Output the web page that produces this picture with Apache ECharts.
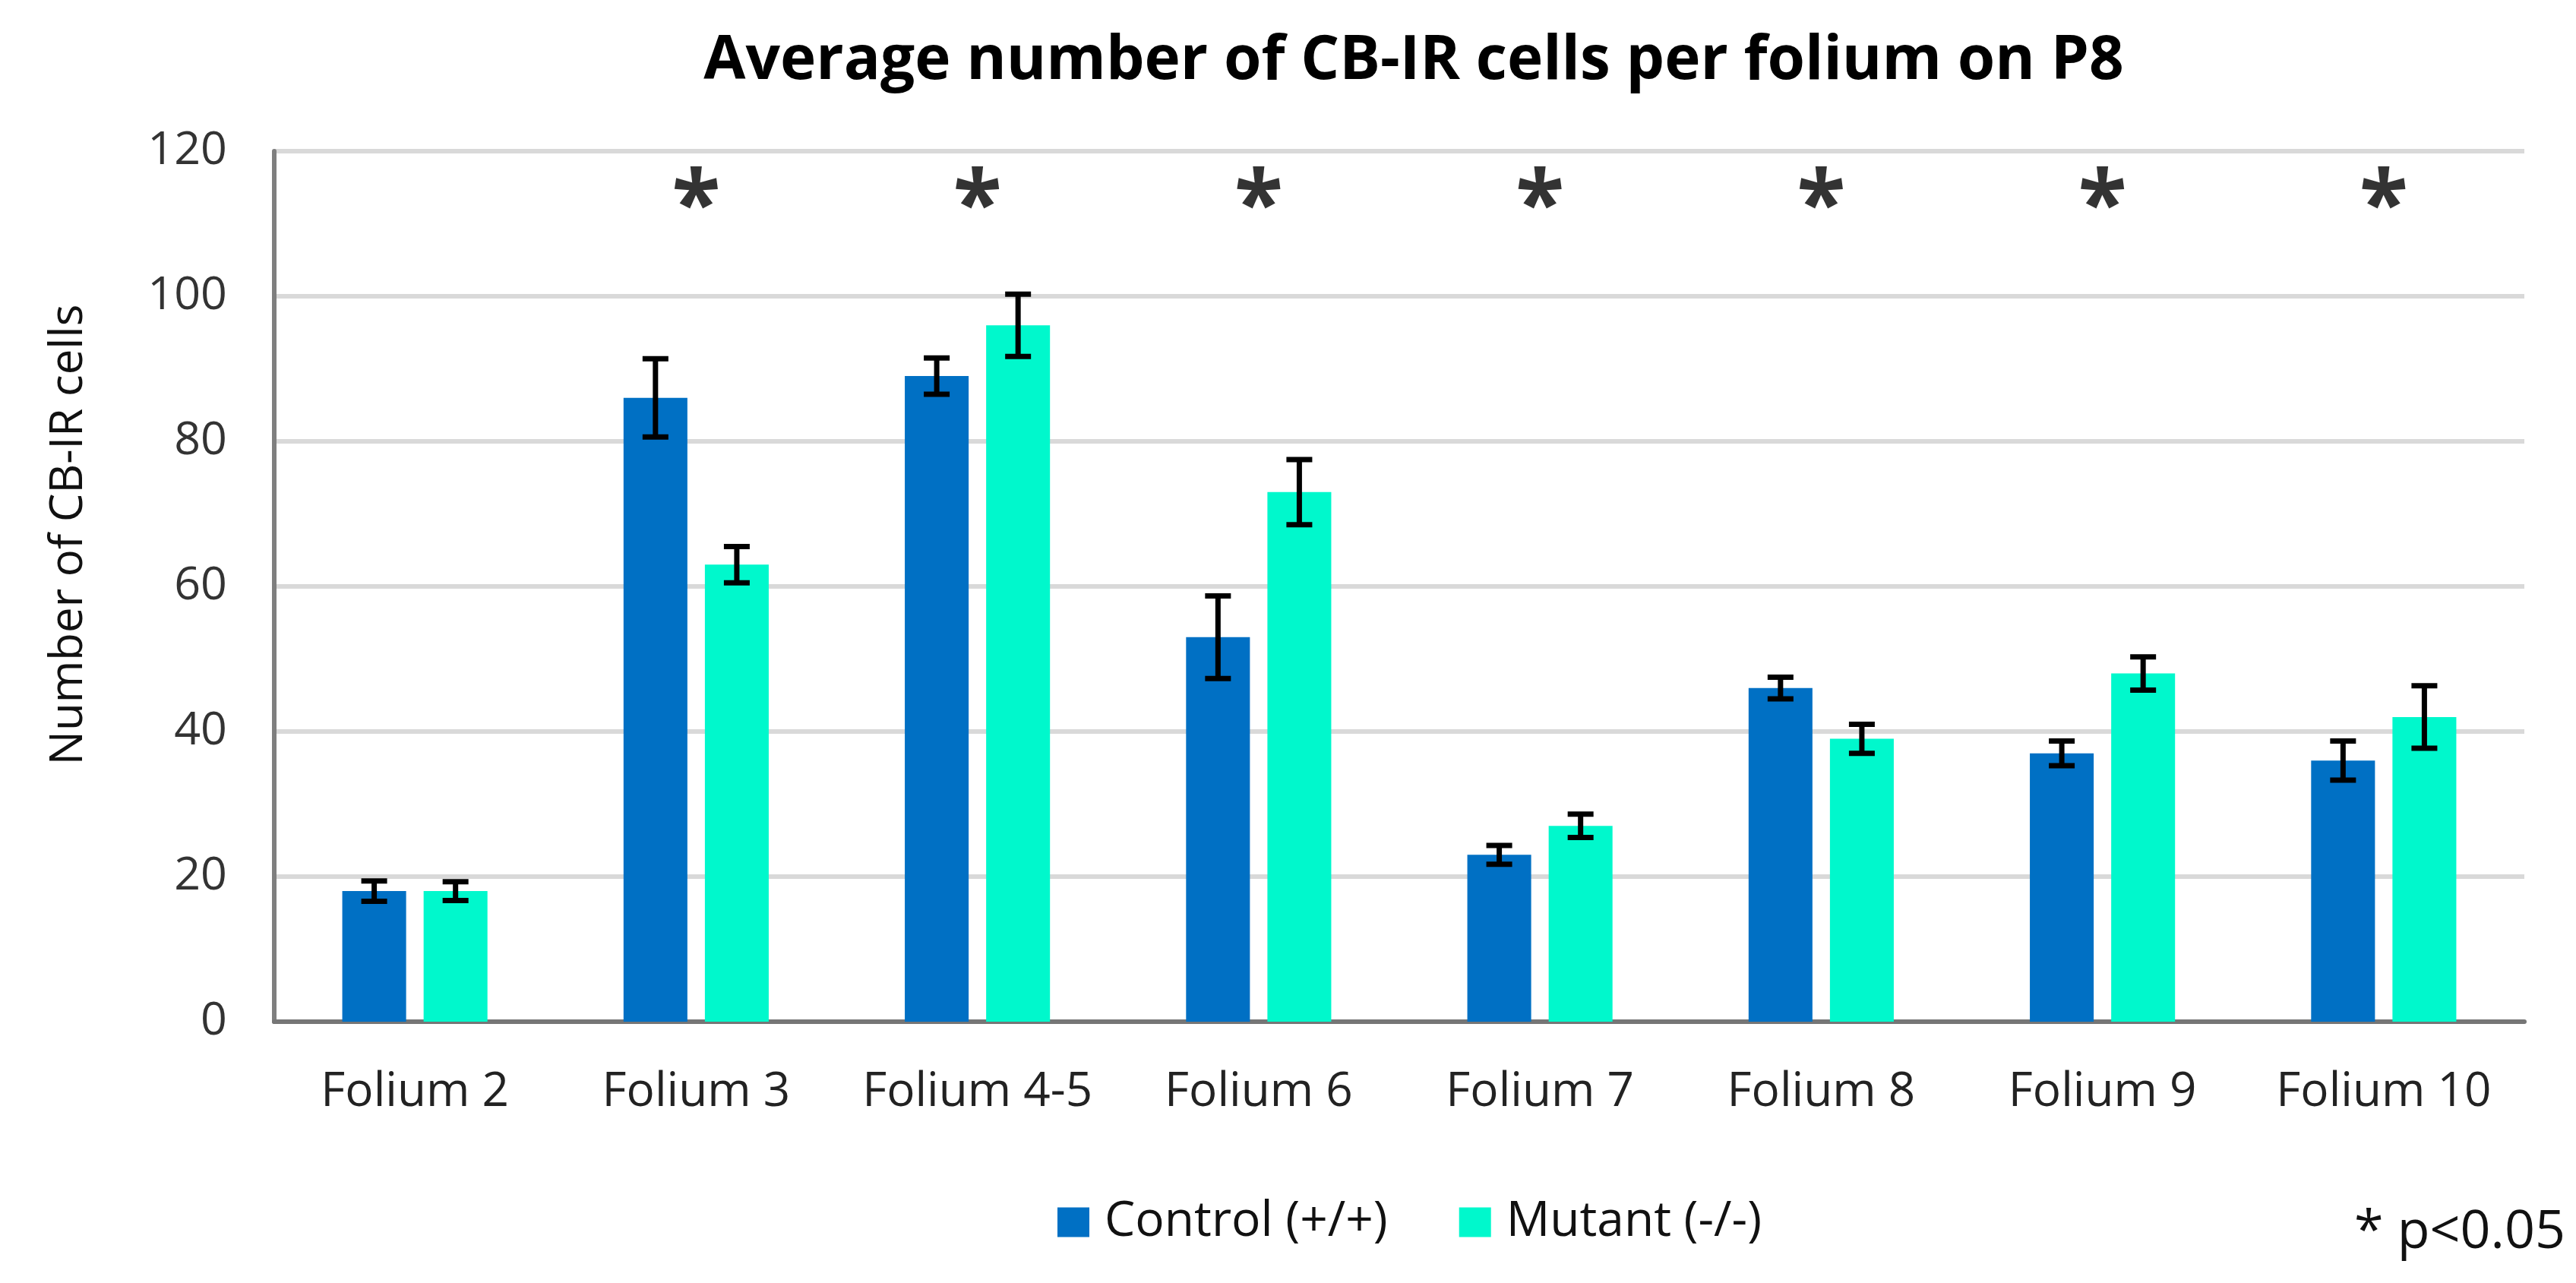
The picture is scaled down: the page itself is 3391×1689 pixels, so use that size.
<!DOCTYPE html>
<html>
<head>
<meta charset="utf-8">
<script src="https://cdn.jsdelivr.net/npm/echarts@6/dist/echarts.min.js"></script>
<style>
html,body{margin:0;padding:0;background:#fff;}
#chart{width:3391px;height:1689px;}
</style>
</head>
<body>
<div id="chart"></div>
<script>
const categories = ['Folium 2','Folium 3','Folium 4-5','Folium 6','Folium 7','Folium 8','Folium 9','Folium 10'];
const controlValues = [18, 86, 89, 53, 23, 46, 37, 36];
const controlErrors = [1.4, 5.4, 2.5, 5.7, 1.3, 1.5, 1.7, 2.7];
const mutantValues = [18, 63, 96, 73, 27, 39, 48, 42];
const mutantErrors = [1.3, 2.5, 4.3, 4.5, 1.6, 2.0, 2.3, 4.3];
const significant = [false, true, true, true, true, true, true, true];
const starLevel = 112;
const yTicks = [0, 20, 40, 60, 80, 100, 120];

const FONT = '"Open Sans", "Noto Sans", sans-serif';
const BAR_FRAC = 0.227;   // bar width as fraction of category band
const GAP_FRAC = 0.274;   // gap between bars as fraction of bar width

function errorSeries(name, values, errors, side) {
  return {
    type: 'custom',
    name: name + ' error',
    z: 10,
    silent: true,
    data: values.map((v, i) => [i, v, errors[i]]),
    renderItem: function (params, api) {
      const idx = api.value(0), v = api.value(1), e = api.value(2);
      const band = api.size([1, 0])[0];
      const bw = band * BAR_FRAC;
      const off = side * (bw + bw * GAP_FRAC) / 2;
      const top = api.coord([idx, v + e]);
      const bot = api.coord([idx, v - e]);
      const x = top[0] + off;
      const cap = 17;
      const st = { stroke: '#000', lineWidth: 7 };
      return {
        type: 'group',
        children: [
          { type: 'line', shape: { x1: x, y1: top[1], x2: x, y2: bot[1] }, style: st },
          { type: 'line', shape: { x1: x - cap, y1: top[1], x2: x + cap, y2: top[1] }, style: st },
          { type: 'line', shape: { x1: x - cap, y1: bot[1], x2: x + cap, y2: bot[1] }, style: st }
        ]
      };
    }
  };
}

const chart = echarts.init(document.getElementById('chart'), null, { renderer: 'canvas' });
chart.setOption({
  backgroundColor: '#fff',
  animation: false,
  title: {
    text: 'Average number of CB-IR cells per folium on P8',
    left: 1856,
    top: 36,
    textAlign: 'center',
    textStyle: { fontFamily: FONT, fontWeight: 'bold', fontSize: 80, color: '#000' }
  },
  legend: {
    data: ['Control (+/+)', 'Mutant (-/-)'],
    left: 1387,
    top: 1572,
    itemWidth: 42,
    itemHeight: 39,
    itemGap: 94,
    icon: 'rect',
    textStyle: { fontFamily: FONT, fontSize: 64, color: '#111', padding: [0, 0, 0, 15] }
  },
  graphic: [{
    type: 'text',
    right: 14,
    top: 1588,
    style: { text: '* p<0.05', font: '70px "Open Sans", sans-serif', fill: '#111' }
  }],
  grid: { left: 361, right: 68, top: 199, bottom: 344, containLabel: false },
  xAxis: {
    type: 'category',
    data: categories,
    axisLine: { show: true, lineStyle: { color: '#767676', width: 6 } },
    axisTick: { show: false },
    axisLabel: { interval: 0, fontFamily: FONT, fontSize: 62, color: '#222', margin: 62 }
  },
  yAxis: {
    type: 'value',
    min: 0, max: 120, interval: 20,
    name: 'Number of CB-IR cells',
    nameLocation: 'middle',
    nameGap: 240,
    nameTextStyle: { fontFamily: FONT, fontSize: 60, color: '#111', padding: [0, 0, 0, 136] },
    axisLine: { show: true, lineStyle: { color: '#7f7f7f', width: 6 } },
    axisTick: { show: false },
    axisLabel: { fontFamily: FONT, fontSize: 61, color: '#333', margin: 62,
      formatter: v => (yTicks.indexOf(v) >= 0 ? String(v) : '') },
    splitLine: { show: true, lineStyle: { color: '#d9d9d9', width: 6 } }
  },
  series: [
    {
      name: 'Control (+/+)',
      type: 'bar',
      data: controlValues,
      barWidth: (BAR_FRAC * 100) + '%',
      barGap: (GAP_FRAC * 100) + '%',
      itemStyle: { color: '#0070C4' }
    },
    {
      name: 'Mutant (-/-)',
      type: 'bar',
      data: mutantValues,
      barWidth: (BAR_FRAC * 100) + '%',
      barGap: (GAP_FRAC * 100) + '%',
      itemStyle: { color: '#00F8CC' }
    },
    errorSeries('Control (+/+)', controlValues, controlErrors, -1),
    errorSeries('Mutant (-/-)', mutantValues, mutantErrors, 1),
    {
      name: 'significance',
      type: 'scatter',
      symbolSize: 0,
      silent: true,
      data: categories.map((c, i) => significant[i] ? [i, starLevel] : null).filter(d => d),
      label: {
        show: true, position: 'inside', formatter: '*',
        fontFamily: FONT, fontWeight: 'bold', fontSize: 118, color: '#000'
      }
    }
  ]
});
</script>
</body>
</html>
